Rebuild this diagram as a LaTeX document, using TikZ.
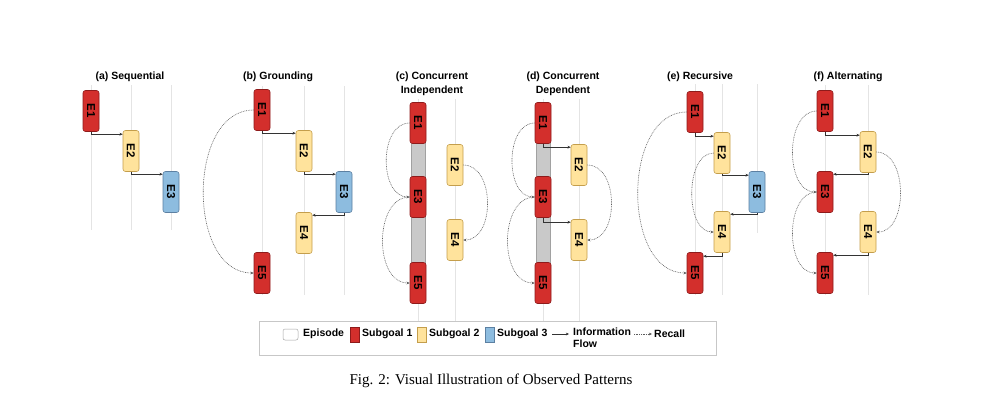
\documentclass[tikz,border=0pt]{standalone}
\usepackage{fontspec}
\setmainfont{Liberation Serif}
\newfontfamily\sansbf{Liberation Sans}[FakeBold=0]
\usetikzlibrary{arrows.meta}
\definecolor{sgred}{HTML}{D32F2C}
\definecolor{sgredd}{HTML}{8E1B1B}
\definecolor{sgyel}{HTML}{FFE39C}
\definecolor{sgyeld}{HTML}{C49E4C}
\definecolor{sgblu}{HTML}{8DBCDF}
\definecolor{sgblud}{HTML}{5C80A2}
\definecolor{guide}{HTML}{E4E4E4}
\definecolor{barc}{HTML}{C9C9C9}
\definecolor{ink}{HTML}{333333}
\tikzset{
  ep/.style={draw, rounded corners=2.5pt, minimum width=16pt, minimum height=41pt, inner sep=0pt, line width=0.6pt, font=\sansbf\bfseries\fontsize{11.5}{12}\selectfont},
  sone/.style={ep, fill=sgred, draw=sgredd},
  stwo/.style={ep, fill=sgyel, draw=sgyeld},
  sthree/.style={ep, fill=sgblu, draw=sgblud},
  guideline/.style={draw=guide, line width=0.7pt},
  cbar/.style={fill=barc, draw=barc!80!black, line width=0.4pt},
  flow/.style={draw=ink, line width=0.8pt, -{Stealth[length=3.2pt,width=2.8pt]}},
  recall/.style={draw=ink!80, line width=0.6pt, dash pattern=on 0.8pt off 0.9pt, -{Stealth[length=3.2pt,width=2.8pt]}},
  ttl/.style={font=\sansbf\bfseries\fontsize{10.5}{14}\selectfont, align=center},
  lgd/.style={font=\sansbf\bfseries\fontsize{10.5}{12}\selectfont, anchor=west, inner sep=0pt, align=left},
}
\newcommand{\ep}[1]{\rotatebox{-90}{#1}}
\begin{document}
\begin{tikzpicture}[x=1pt,y=-1pt]
\useasboundingbox[fill=white] (0,0) rectangle (1000,416);

% ---------- guide lines ----------
\foreach \x in {91,131,171} \draw[guideline] (\x,85) -- (\x,230);
\foreach \x in {262,304,344} \draw[guideline] (\x,86) -- (\x,295);
\foreach \x in {418,455} \draw[guideline] (\x,99) -- (\x,321);
\foreach \x in {543,579} \draw[guideline] (\x,99) -- (\x,321);
\foreach \x in {695,722} \draw[guideline] (\x,84) -- (\x,295);
\draw[guideline] (757,84) -- (757,233);
\foreach \x in {825,868} \draw[guideline] (\x,85) -- (\x,295);

% ---------- titles ----------
\node[ttl] (ta) at (130,77) {(a) Sequential};
\node[ttl] (tb) at (278,77) {(b) Grounding};
\node[ttl] (tc) at (432,84) {(c) Concurrent\\Independent};
\node[ttl] (td) at (563,84) {(d) Concurrent\\Dependent};
\node[ttl] (te) at (700,77) {(e) Recursive};
\node[ttl] (tf) at (848,77) {(f) Alternating};

% ---------- concurrent bars ----------
\draw[cbar] (411,104) rectangle (425,302);
\draw[cbar] (536,104) rectangle (550,302);

% ---------- (a) ----------
\node[sone]   (a1) at (91,111)  {\ep{E1}};
\node[stwo]   (a2) at (131,151) {\ep{E2}};
\node[sthree] (a3) at (171,192) {\ep{E3}};
\draw[flow] (a1.south) |- ([yshift=-4pt]a2.north west);
\draw[flow] (a2.south) |- ([yshift=-3pt]a3.north west);

% ---------- (b) ----------
\node[sone]   (b1) at (262,110) {\ep{E1}};
\node[stwo]   (b2) at (304,151) {\ep{E2}};
\node[sthree] (b3) at (344,192) {\ep{E3}};
\node[stwo]   (b4) at (304,233) {\ep{E4}};
\node[sone]   (b5) at (262,273) {\ep{E5}};
\draw[flow] (b1.south) |- ([yshift=-3pt]b2.north west);
\draw[flow] (b2.south) |- ([yshift=-3pt]b3.north west);
\draw[flow] (b3.south) |- ([yshift=-3pt]b4.north east);
\draw[recall] (b1.west) to[out=180,in=180,distance=67pt] (b5.west);

% ---------- (c) ----------
\node[sone] (c1) at (418,123) {\ep{E1}};
\node[sone] (c3) at (418,197) {\ep{E3}};
\node[sone] (c5) at (418,283) {\ep{E5}};
\node[stwo] (c2) at (455,165) {\ep{E2}};
\node[stwo] (c4) at (455,240) {\ep{E4}};
\draw[recall] (c1.west) to[out=180,in=180,distance=31pt] (c3.west);
\draw[recall] (c3.west) to[out=180,in=180,distance=36pt] (c5.west);
\draw[recall] (c2.east) to[out=0,in=0,distance=32pt] (c4.east);

% ---------- (d) ----------
\node[sone] (d1) at (543,123) {\ep{E1}};
\node[sone] (d3) at (543,197) {\ep{E3}};
\node[sone] (d5) at (543,283) {\ep{E5}};
\node[stwo] (d2) at (579,165) {\ep{E2}};
\node[stwo] (d4) at (579,240) {\ep{E4}};
\draw[flow] (d1.south) |- ([yshift=-3pt]d2.north west);
\draw[flow] (d3.south) |- ([yshift=-3pt]d4.north west);
\draw[recall] (d1.west) to[out=180,in=180,distance=30pt] (d3.west);
\draw[recall] (d3.west) to[out=180,in=180,distance=36pt] (d5.west);
\draw[recall] (d2.east) to[out=0,in=0,distance=32pt] (d4.east);

% ---------- (e) ----------
\node[sone]   (e1) at (695,112) {\ep{E1}};
\node[stwo]   (e2) at (722,153) {\ep{E2}};
\node[sthree] (e3) at (757,192) {\ep{E3}};
\node[stwo]   (e4) at (722,232) {\ep{E4}};
\node[sone]   (e5) at (695,273) {\ep{E5}};
\draw[flow] (e1.south) |- ([yshift=-4pt]e2.north west);
\draw[flow] (e2.south) |- ([yshift=-4pt]e3.north west);
\draw[flow] (e3.south) |- ([yshift=-3pt]e4.north east);
\draw[flow] (e4.south) |- ([yshift=-4pt]e5.north east);
\draw[recall] (e1.west) to[out=180,in=180,distance=65pt] (e5.west);
\draw[recall] (e2.west) to[out=180,in=180,distance=29pt] (e4.west);

% ---------- (f) ----------
\node[sone] (f1) at (825,111) {\ep{E1}};
\node[stwo] (f2) at (868,152) {\ep{E2}};
\node[sone] (f3) at (825,192) {\ep{E3}};
\node[stwo] (f4) at (868,232) {\ep{E4}};
\node[sone] (f5) at (825,273) {\ep{E5}};
\draw[flow] (f1.south) |- ([yshift=-4pt]f2.north west);
\draw[flow] (f2.south) |- ([yshift=-3pt]f3.north east);
\draw[flow] (f4.south) |- ([yshift=-3pt]f5.north east);
\draw[recall] (f1.west) to[out=180,in=180,distance=32pt] (f3.west);
\draw[recall] (f3.west) to[out=180,in=180,distance=32pt] (f5.west);
\draw[recall] (f2.east) to[out=0,in=0,distance=32pt] (f4.east);

% ---------- legend ----------
\node[draw=black!22, line width=0.7pt, fill=white, minimum width=457pt, minimum height=34pt, inner sep=0pt] (lg) at (487.5,338) {};
\node[draw=black!35, fill=white, rounded corners=2pt, minimum width=15pt, minimum height=11pt, inner sep=0pt, line width=0.5pt] (lep) at (290.5,334.5) {};
\node[lgd] (lept) at (303,334) {Episode};
\node[fill=sgred, draw=sgredd, line width=0.5pt, minimum width=9pt, minimum height=15pt, inner sep=0pt] (ls1) at (354.5,334.5) {};
\node[lgd] (ls1t) at (362,334) {Subgoal 1};
\node[fill=sgyel, draw=sgyeld, line width=0.5pt, minimum width=9pt, minimum height=15pt, inner sep=0pt] (ls2) at (422,334.5) {};
\node[lgd] (ls2t) at (429,334) {Subgoal 2};
\node[fill=sgblu, draw=sgblud, line width=0.5pt, minimum width=9pt, minimum height=15pt, inner sep=0pt] (ls3) at (489.5,334.5) {};
\node[lgd] (ls3t) at (497,334) {Subgoal 3};
\coordinate (lfa) at (552,334);
\coordinate (lfb) at (569,334);
\draw[flow] (lfa) -- (lfb);
\node[lgd] (lft) at (573,338) {Information\\Flow};
\coordinate (lra) at (634,334);
\coordinate (lrb) at (652,334);
\draw[recall] (lra) -- (lrb);
\node[lgd] (lrt) at (654,334) {Recall};

% ---------- caption ----------
\node[font=\fontsize{15}{18}\selectfont, inner sep=0pt] (cap) at (491,381) {Fig. 2: Visual Illustration of Observed Patterns};
\end{tikzpicture}
\end{document}
